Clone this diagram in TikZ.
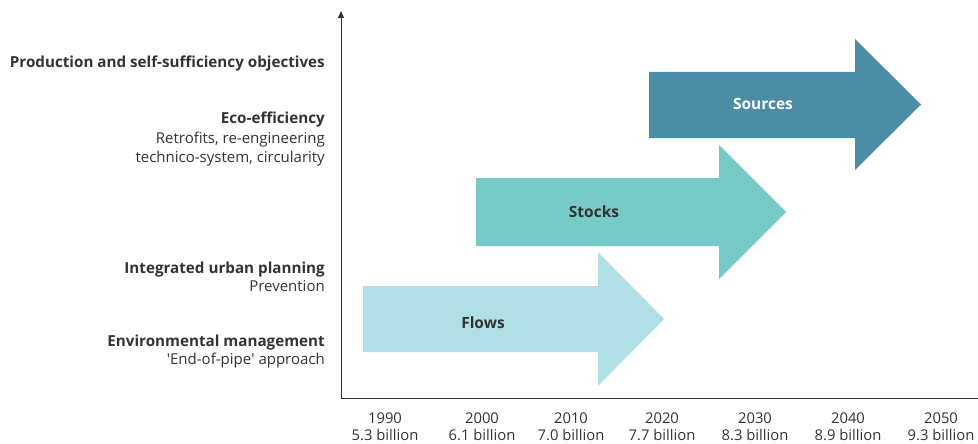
\documentclass[tikz,border=0pt]{standalone}
\usepackage{fontspec}
\setmainfont{Open Sans}
\usetikzlibrary{arrows.meta}
\definecolor{txt}{HTML}{333333}
\definecolor{csrc}{HTML}{4A8DA5}
\definecolor{cstk}{HTML}{77CBC6}
\definecolor{cflw}{HTML}{B0DFE6}
\begin{document}
\begin{tikzpicture}[x=1pt,y=-1pt,
  lab/.style={anchor=base east,text=txt,font=\fontsize{15}{18}\selectfont,inner sep=0pt},
  blab/.style={lab,font=\bfseries\fontsize{15.2}{18}\selectfont},
  yr/.style={anchor=base,text=txt,font=\fontsize{14.8}{18}\selectfont,inner sep=0pt},
  arrtxt/.style={text=txt,font=\bfseries\fontsize{15.5}{18}\selectfont,inner sep=0pt},
  axis/.style={draw=txt,line width=0.9pt}]
\useasboundingbox (0,0) rectangle (978,444);
% arrows
\fill[cflw] (363,286) -- (598,286) -- (598,252) -- (664,319) -- (598,386) -- (598,352) -- (363,352) -- cycle;
\fill[cstk] (476,178) -- (719,178) -- (719,145) -- (786,212) -- (719,279) -- (719,246) -- (476,246) -- cycle;
\fill[csrc] (649,72) -- (855,72) -- (855,39) -- (921,104.5) -- (855,170) -- (855,138) -- (649,138) -- cycle;
\node[arrtxt] (flows) at (483,323) {Flows};
\node[arrtxt] (stocks) at (594,212) {Stocks};
\node[arrtxt,text=white] (sources) at (763,104) {Sources};
% axes
\coordinate (origin) at (341,398.5);
\coordinate (ytop) at (341,11);
\coordinate (xend) at (978,398.5);
\draw[axis,-{Triangle[width=6pt,length=7pt]}] (origin) -- (ytop);
\draw[axis] (origin) -- (xend);
% left labels
\node[blab] (prod) at (325,67) {Production and self-sufficiency objectives};
\node[blab] (eco) at (325,124) {Eco-efficiency};
\node[lab] (eco2) at (325,143) {Retrofits, re-engineering\ };
\node[lab] (eco3) at (325,162) {technico-system, circularity};
\node[blab] (iup) at (325,273) {Integrated urban planning};
\node[lab] (iup2) at (325,291) {Prevention};
\node[blab] (env) at (325,346) {Environmental management};
\node[lab] (env2) at (325,364) {\textquotesingle End-of-pipe\textquotesingle\ approach};
% year labels
\foreach \yy/\pp/\xx [count=\i] in {1990/5.3/385,2000/6.1/482,2010/7.0/571,2020/7.7/662,2030/8.3/755,2040/8.9/848,2050/9.3/941}{
  \node[yr] (year\i) at (\xx,423) {\yy};
  \node[yr] (pop\i) at (\xx,440.5) {\pp\ billion};
}
\end{tikzpicture}
\end{document}
